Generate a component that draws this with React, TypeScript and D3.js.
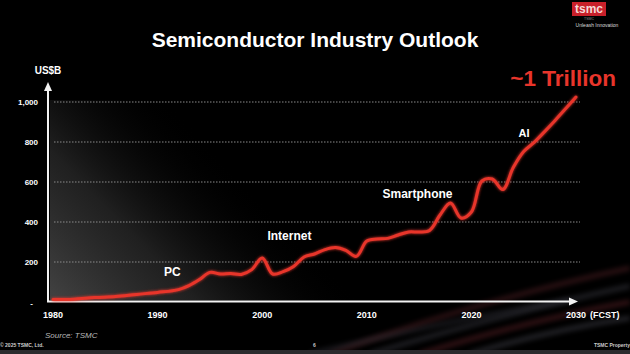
import React, { useEffect, useRef } from 'react';
import * as d3 from 'd3';

const years = [1980, 1982, 1984, 1986, 1988, 1990, 1992, 1993, 1994, 1995, 1996, 1997, 1998, 1999, 2000, 2001, 2002, 2003, 2004, 2005, 2006, 2007, 2008, 2009, 2010, 2011, 2012, 2013, 2014, 2015, 2016, 2017, 2018, 2019, 2020, 2021, 2022, 2023, 2024, 2025, 2026, 2027, 2028, 2029, 2030];
const revenue = [12, 14, 22, 27, 38, 48, 62, 82, 112, 148, 140, 142, 138, 162, 220, 140, 152, 178, 225, 240, 262, 272, 258, 228, 305, 315, 318, 335, 350, 350, 358, 435, 495, 420, 450, 605, 615, 562, 672, 752, 798, 852, 908, 966, 1025];

const yTicks = [200, 400, 600, 800, 1000];
const xTicks = [1980, 1990, 2000, 2010, 2020, 2030];

const eras = [
  { label: 'PC', year: 1990.6, value: 130 },
  { label: 'Internet', year: 2000.5, value: 310 },
  { label: 'Smartphone', year: 2011.5, value: 520 },
  { label: 'AI', year: 2024.5, value: 825 },
];

const W = 630;
const H = 354;

const App: React.FC = () => {
  const svgRef = useRef<SVGSVGElement>(null);

  useEffect(() => {
    document.body.style.margin = '0';
    if (!svgRef.current) return;
    const svg = d3.select(svgRef.current);
    svg.selectAll('*').remove();

    const font = 'Liberation Sans, Arial, sans-serif';
    const red = '#e8352b';

    const x = d3.scaleLinear().domain([1980, 2030]).range([53, 576]);
    const y = d3.scaleLinear().domain([0, 1000]).range([302, 102]);

    const defs = svg.append('defs');
    const haze = defs.append('linearGradient')
      .attr('id', 'haze')
      .attr('gradientUnits', 'userSpaceOnUse')
      .attr('x1', 60).attr('y1', 300).attr('x2', 215).attr('y2', 150);
    haze.append('stop').attr('offset', 0).attr('stop-color', '#555').attr('stop-opacity', 0.75);
    haze.append('stop').attr('offset', 0.45).attr('stop-color', '#3a3a3a').attr('stop-opacity', 0.55);
    haze.append('stop').attr('offset', 0.75).attr('stop-color', '#222').attr('stop-opacity', 0.2);
    haze.append('stop').attr('offset', 1).attr('stop-color', '#000').attr('stop-opacity', 0);

    const glow = defs.append('filter').attr('id', 'glow')
      .attr('x', '-10%').attr('y', '-10%').attr('width', '120%').attr('height', '120%');
    glow.append('feGaussianBlur').attr('stdDeviation', 1.6).attr('result', 'b');
    const merge = glow.append('feMerge');
    merge.append('feMergeNode').attr('in', 'b');
    merge.append('feMergeNode').attr('in', 'SourceGraphic');

    // background
    svg.append('rect').attr('width', W).attr('height', H).attr('fill', '#000');

    // decorative swooshes bottom right
    const swoosh = [
      { x0: 330, y0: 354, cx: 480, cy: 300, x1: 630, y1: 268, c: '#6b2a30' },
      { x0: 370, y0: 354, cx: 510, cy: 312, x1: 630, y1: 286, c: '#4a4a55' },
      { x0: 420, y0: 354, cx: 530, cy: 320, x1: 630, y1: 302, c: '#7a2c33' },
      { x0: 470, y0: 354, cx: 550, cy: 330, x1: 630, y1: 318, c: '#555560' },
      { x0: 310, y0: 354, cx: 440, cy: 322, x1: 570, y1: 300, c: '#3a3a44' },
    ];
    swoosh.forEach(s => {
      const p = d3.path();
      p.moveTo(s.x0, s.y0);
      p.quadraticCurveTo(s.cx, s.cy, s.x1, s.y1);
      svg.append('path').attr('d', p.toString()).attr('fill', 'none')
        .attr('stroke', s.c).attr('stroke-width', 5).attr('opacity', 0.4)
        .style('filter', 'blur(2.5px)');
    });

    // haze
    svg.append('rect').attr('x', 50).attr('y', 100).attr('width', 350).attr('height', 200)
      .attr('fill', 'url(#haze)');

    // grid
    svg.append('g').selectAll('line').data(yTicks).enter().append('line')
      .attr('x1', 54).attr('x2', 580)
      .attr('y1', d => y(d)).attr('y2', d => y(d))
      .attr('stroke', '#8a8a8a').attr('stroke-width', 1.2)
      .attr('stroke-dasharray', '1.5,1.5');

    // y tick labels
    svg.append('g').selectAll('text').data(yTicks).enter().append('text')
      .attr('x', 38).attr('y', d => y(d) + 3)
      .attr('text-anchor', 'end')
      .attr('fill', '#fff').attr('font-family', font).attr('font-size', 8).attr('font-weight', 'bold')
      .text(d => d3.format(',')(d));
    svg.append('text').attr('x', 33).attr('y', y(0) + 4).attr('text-anchor', 'end')
      .attr('fill', '#fff').attr('font-family', font).attr('font-size', 8).attr('font-weight', 'bold').text('-');

    // x tick labels
    svg.append('g').selectAll('text').data(xTicks).enter().append('text')
      .attr('x', d => x(d)).attr('y', 318)
      .attr('text-anchor', 'middle')
      .attr('fill', '#fff').attr('font-family', font).attr('font-size', 9).attr('font-weight', 'bold')
      .text(d => String(d));
    svg.append('text').attr('x', 590).attr('y', 318)
      .attr('fill', '#fff').attr('font-family', font).attr('font-size', 9).attr('font-weight', 'bold')
      .text('(FCST)');

    // axes
    const axisColor = '#f2f2f2';
    svg.append('line').attr('x1', 48).attr('x2', 48).attr('y1', 302).attr('y2', 90)
      .attr('stroke', axisColor).attr('stroke-width', 2);
    svg.append('path').attr('d', 'M44,91 L48,82 L52,91 Z').attr('fill', axisColor);
    svg.append('line').attr('x1', 47).attr('x2', 570).attr('y1', 301.5).attr('y2', 301.5)
      .attr('stroke', axisColor).attr('stroke-width', 2);
    svg.append('path').attr('d', 'M569,297.5 L578,301.5 L569,305.5 Z').attr('fill', axisColor);
    svg.append('text').attr('x', 48).attr('y', 74).attr('text-anchor', 'middle')
      .attr('fill', '#fff').attr('font-family', font).attr('font-size', 10).attr('font-weight', 'bold')
      .text('US$B');

    // line
    const pts = years.map((yr, i) => [yr, revenue[i]] as [number, number]);
    const line = d3.line<[number, number]>()
      .x(d => x(d[0])).y(d => y(d[1]))
      .curve(d3.curveCatmullRom.alpha(0.5));
    svg.append('path').datum(pts).attr('d', line)
      .attr('fill', 'none').attr('stroke', red).attr('stroke-width', 3)
      .attr('stroke-linecap', 'round').attr('stroke-linejoin', 'round')
      .attr('filter', 'url(#glow)');

    // era labels
    svg.append('g').selectAll('text').data(eras).enter().append('text')
      .attr('x', d => x(d.year)).attr('y', d => y(d.value))
      .attr('fill', '#fff').attr('font-family', font)
      .attr('font-size', d => (d.label === 'AI' ? 11 : 12)).attr('font-weight', 'bold')
      .text(d => d.label);

    // ~1 Trillion
    svg.append('text').attr('x', 616).attr('y', 86).attr('text-anchor', 'end')
      .attr('fill', red).attr('font-family', font).attr('font-size', 22.5).attr('font-weight', 'bold')
      .text('~1 Trillion');

    // title
    svg.append('text').attr('x', 315).attr('y', 47).attr('text-anchor', 'middle')
      .attr('fill', '#fff').attr('font-family', font).attr('font-size', 21).attr('font-weight', 'bold')
      .text('Semiconductor Industry Outlook');

    // source
    svg.append('text').attr('x', 45).attr('y', 338)
      .attr('fill', '#b8b8b8').attr('font-family', font).attr('font-size', 8).attr('font-style', 'italic')
      .text('Source: TSMC');

    // logo
    svg.append('rect').attr('x', 572).attr('y', 2).attr('width', 34).attr('height', 14).attr('fill', '#c8202a');
    svg.append('text').attr('x', 589).attr('y', 13).attr('text-anchor', 'middle')
      .attr('fill', '#f4d8d8').attr('font-family', font).attr('font-size', 12).attr('font-weight', 'bold')
      .text('tsmc');
    svg.append('text').attr('x', 589).attr('y', 19.5).attr('text-anchor', 'middle')
      .attr('fill', '#888').attr('font-family', font).attr('font-size', 3.5)
      .text('TSMC');
    svg.append('text').attr('x', 597).attr('y', 27).attr('text-anchor', 'middle')
      .attr('fill', '#ddd').attr('font-family', font).attr('font-size', 5)
      .text('Unleash Innovation');

    // footer
    svg.append('rect').attr('x', 0).attr('y', 350).attr('width', W).attr('height', 4).attr('fill', '#2c2c2e');
    svg.append('text').attr('x', 0).attr('y', 347)
      .attr('fill', '#ccc').attr('font-family', font).attr('font-size', 5).attr('font-weight', 'bold')
      .text('© 2025 TSMC, Ltd.');
    svg.append('text').attr('x', 313).attr('y', 347)
      .attr('fill', '#ccc').attr('font-family', font).attr('font-size', 5).attr('font-weight', 'bold')
      .text('6');
    svg.append('text').attr('x', 630).attr('y', 347).attr('text-anchor', 'end')
      .attr('fill', '#ccc').attr('font-family', font).attr('font-size', 5).attr('font-weight', 'bold')
      .text('TSMC Property');
  }, []);

  return (
    <div style={{ position: 'absolute', left: 0, top: 0, width: W, height: H, background: '#000' }}>
      <svg ref={svgRef} width={W} height={H} style={{ display: 'block' }} />
    </div>
  );
};

export default App;
